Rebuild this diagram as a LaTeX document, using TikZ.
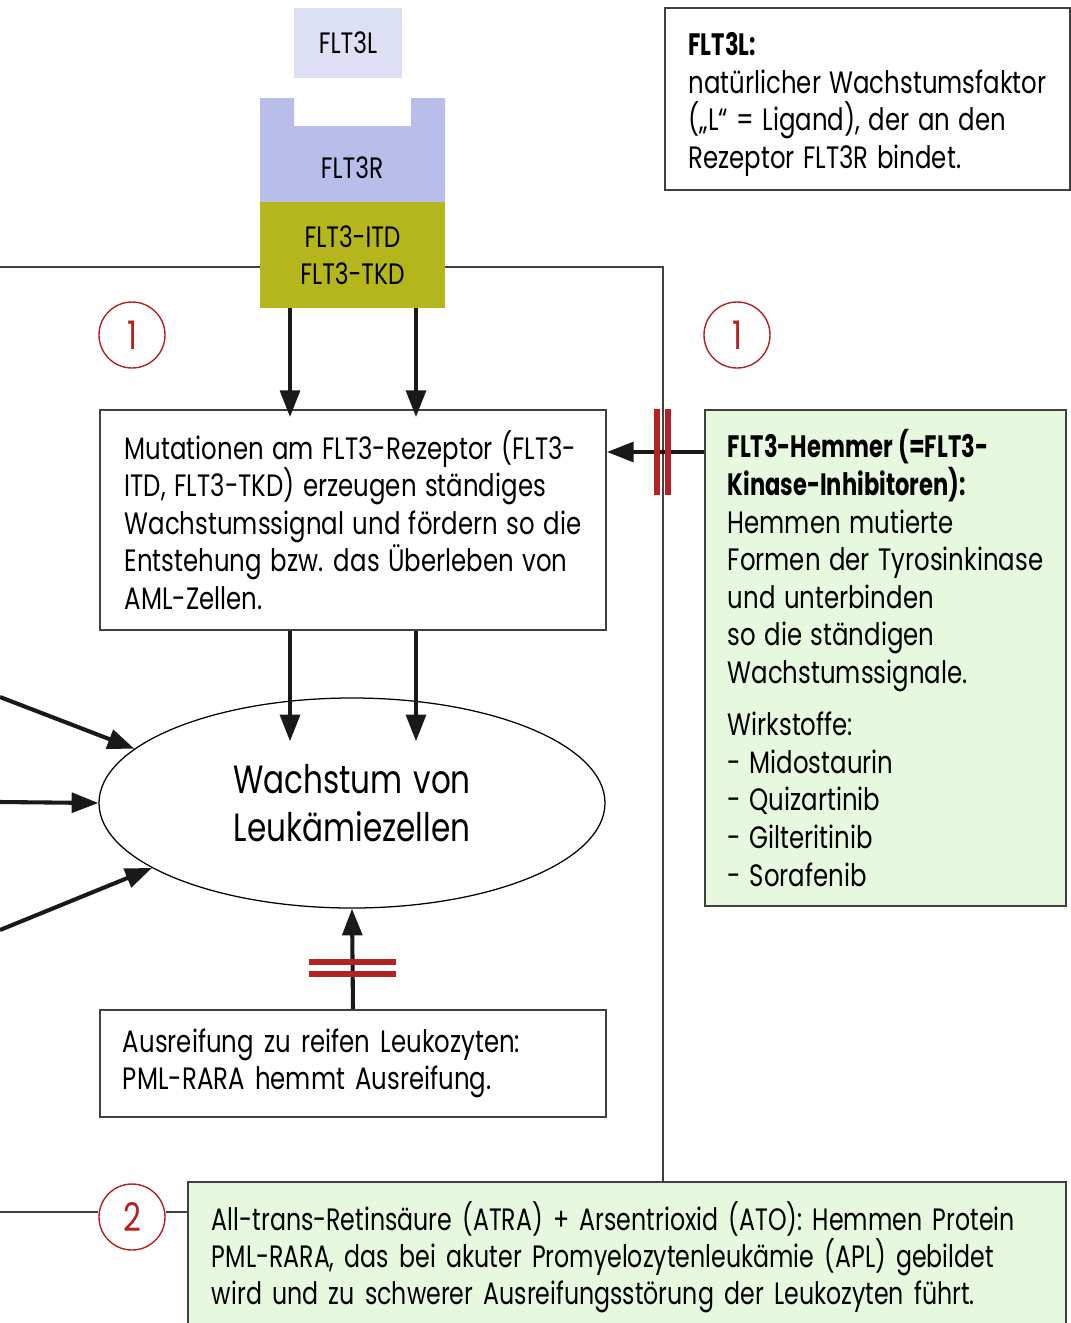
\documentclass[tikz,border=0pt]{standalone}
\usepackage{fontspec}
\setmainfont[FakeStretch=0.79,WordSpace=1.3,BoldFeatures={FakeStretch=0.73,WordSpace=1.2}]{Poppins}
\newfontfamily\schmal[FakeStretch=0.765,WordSpace=1.3]{Poppins}
\usetikzlibrary{arrows.meta,calc,shapes.geometric}
\definecolor{LigandLila}{RGB}{221,223,245}
\definecolor{RezeptorLila}{RGB}{184,189,234}
\definecolor{MutationOliv}{RGB}{181,181,28}
\definecolor{HemmerGruen}{RGB}{230,248,222}
\definecolor{HemmungRot}{RGB}{180,34,34}
\definecolor{RahmenGrau}{RGB}{64,64,64}

\begin{document}
\begin{tikzpicture}[x=0.25mm,y=-0.25mm,>={Triangle[length=19pt,width=14pt]},
  kasten/.style={draw=RahmenGrau,line width=1.3pt,inner sep=0pt,align=left,font=\fontsize{22}{26.7}\selectfont},
  etikett/.style={inner sep=0pt,align=center,font=\fontsize{21}{26.3}\selectfont},
  pfeil/.style={->,line width=2.9pt,black!90},
  sperre/.style={line width=3.6pt,HemmungRot},
  rahmen/.style={line width=1pt,RahmenGrau},
  nummer/.style={circle,draw=HemmungRot,line width=1pt,minimum size=16.5mm,inner sep=0pt,text=HemmungRot,font=\fontsize{28}{30}\selectfont}]
  \useasboundingbox (0,0) rectangle (1071,1323);

  % Ligand und Rezeptor
  \node[etikett,fill=LigandLila,minimum width=27mm,minimum height=17.5mm] (ligand) at (348,43) {FLT3L};
  \fill[RezeptorLila] (260,98) -- (294,98) -- (294,126) -- (411,126) -- (411,98) -- (445,98) -- (445,202) -- (260,202) -- cycle;
  \node[etikett] (rezeptor) at (352,168) {FLT3R};
  \node[etikett,fill=MutationOliv,minimum width=46.25mm,minimum height=26.5mm] (itd) at (352.5,255) {FLT3-ITD\\FLT3-TKD};

  % Rahmen
  \draw[rahmen] (0,267) -- (itd.west |- 0,267);
  \draw[rahmen] (itd.east |- 0,267) -- (663,267) -- (663,1182);

  \node[nummer] (einsL) at (132,335) {1};
  \node[nummer] (einsR) at (737,335) {1};

  \node[kasten,minimum width=126.5mm,minimum height=55mm] (mutation) at (353,520) {Mutationen am FLT3-Rezeptor (FLT3-\\ITD, FLT3-TKD) erzeugen ständiges\\Wachstumssignal und fördern so die\\Entstehung bzw. das Überleben von\\AML-Zellen.};
  \node[ellipse,draw=black,line width=0.9pt,minimum width=126.5mm,minimum height=52.5mm,inner sep=0pt,align=center,font=\fontsize{28}{34}\selectfont] (wachstum) at (352,803) {Wachstum von\\Leukämiezellen};
  \node[kasten,minimum width=126.5mm,minimum height=26.75mm,text width=115mm] (ausreifung) at (353,1063.5) {Ausreifung zu reifen Leukozyten:\\PML-RARA hemmt Ausreifung.};

  \node[kasten,minimum width=101.25mm,minimum height=45.5mm] (info) at (867.5,99) {\rule{0pt}{8.6mm}\textbf{FLT3L:}\\natürlicher Wachstumsfaktor\\(„L“ = Ligand), der an den\\Rezeptor FLT3R bindet.};
  \node[kasten,fill=HemmerGruen,minimum width=90.25mm,minimum height=124mm] (hemmer) at (885.5,658) {\textbf{FLT3-Hemmer (=FLT3-}\\\textbf{Kinase-Inhibitoren):}\\Hemmen mutierte\\Formen der Tyrosinkinase\\und unterbinden\\so die ständigen\\Wachstumssignale.\\[3.8mm]Wirkstoffe:\\- Midostaurin\\- Quizartinib\\- Gilteritinib\\- Sorafenib};

  % Pfeile
  \draw[pfeil,shorten >=-2mm] (itd.south -| 290,0) -- (mutation.north -| 290,0);
  \draw[pfeil,shorten >=-2mm] (itd.south -| 416,0) -- (mutation.north -| 416,0);
  \draw[pfeil,shorten >=-11mm] (mutation.south -| 290,0) -- (wachstum.north -| 290,0);
  \draw[pfeil,shorten >=-11mm] (mutation.south -| 416,0) -- (wachstum.north -| 416,0);

  \coordinate (links1) at (0,697);
  \coordinate (links2) at (0,802);
  \coordinate (links3) at (0,930);
  \draw[pfeil] (links1) -- (wachstum.166);
  \draw[pfeil] (links2) -- (wachstum.west);
  \draw[pfeil] (links3) -- (wachstum.198);

  % Hemmung
  \draw[pfeil] (hemmer.west |- 0,452) -- (mutation.east |- 0,452);
  \draw[sperre] (657,409) -- (657,495);
  \draw[sperre] (668,409) -- (668,495);
  \draw[pfeil] (ausreifung.north) -- (wachstum.south);
  \draw[sperre] (309,962) -- (396,962);
  \draw[sperre] (309,974) -- (396,974);

  % Therapie 2
  \node[fill=HemmerGruen,minimum width=219.5mm,minimum height=37.5mm,anchor=north,inner sep=0pt,text width=207.5mm,align=left,font=\schmal\fontsize{22}{26.5}\selectfont] (atra) at (627,1182) {All-trans-Retinsäure (ATRA) + Arsentrioxid (ATO): Hemmen Protein\\PML-RARA, das bei akuter Promyelozytenleukämie (APL) gebildet\\wird und zu schwerer Ausreifungsstörung der Leukozyten führt.};
  \draw[draw=RahmenGrau,line width=1.3pt] (atra.south west) -- (atra.north west) -- (atra.north east) -- (atra.south east);
  \node[nummer] (zwei) at (132,1217) {2};
  \draw[rahmen] (0,1212) -- (zwei.west |- 0,1212);
  \draw[rahmen] (zwei.east |- 0,1212) -- (atra.west |- 0,1212);
\end{tikzpicture}
\end{document}
